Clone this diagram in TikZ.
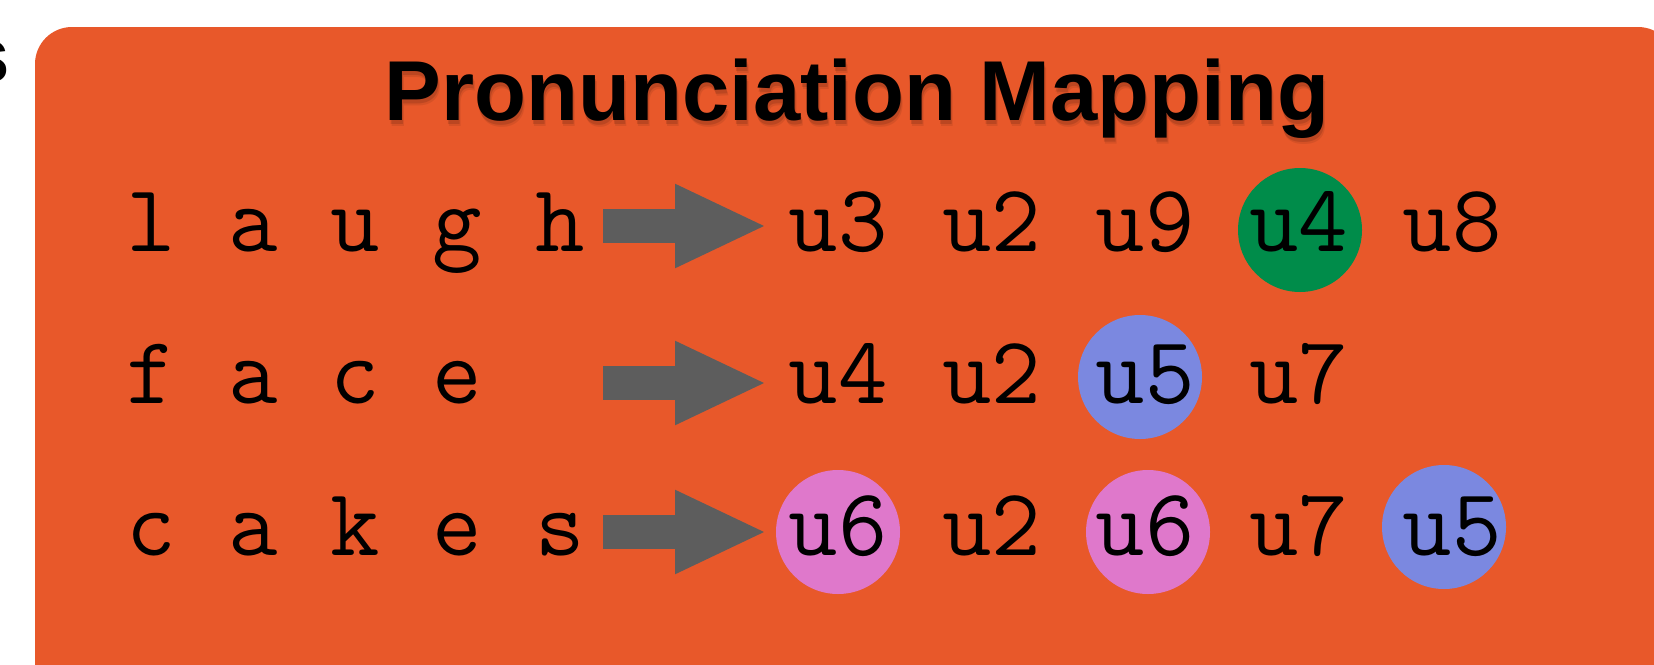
\documentclass[tikz,border=0pt]{standalone}
\usepackage{fontspec}
\setmainfont{Liberation Sans}
\usetikzlibrary{arrows.meta}
\definecolor{bgorange}{RGB}{232,88,42}
\definecolor{arrowgray}{RGB}{93,93,93}
\definecolor{tokgreen}{RGB}{0,140,74}
\definecolor{tokblue}{RGB}{123,136,224}
\definecolor{tokpink}{RGB}{223,120,203}
\tikzset{
  tok/.style={inner sep=0pt, anchor=base, font=\ttfamily\fontsize{96}{100}\selectfont},
  titletext/.style={inner sep=0pt, anchor=base, font=\bfseries\fontsize{85}{90}\selectfont},
  blob/.style={circle, minimum size=124pt, inner sep=0pt, draw=none},
  bigarrow/.style={draw=arrowgray, line width=34pt, -{Triangle[length=92pt, width=77pt]}},
}
\begin{document}
\begin{tikzpicture}[x=1pt,y=-1pt]
\useasboundingbox (0,0) rectangle (1654,664);
\begin{scope}
\clip (0,0) rectangle (1654,664);
\fill[bgorange, rounded corners=37pt] (35,27) rectangle (1675,730);
\node[inner sep=0pt, anchor=base east, font=\bfseries\fontsize{78}{80}\selectfont] (cut) at (10,82) {s};
% title with soft shadow
\node[titletext, text=black, opacity=0.12] (tshadowa) at (858,124) {Pronunciation Mapping};
\node[titletext, text=black, opacity=0.08] (tshadowb) at (859,126) {Pronunciation Mapping};
\node[titletext] (title) at (857,120) {Pronunciation Mapping};
% circles
\node[blob, fill=tokgreen] (c1) at (1300,230) {};
\node[blob, fill=tokblue] (c2) at (1140,377) {};
\node[blob, fill=tokpink] (c3) at (838,532) {};
\node[blob, fill=tokpink] (c4) at (1148,532) {};
\node[blob, fill=tokblue] (c5) at (1444,527) {};
% row 1
\node[tok] (l1a) at (151,251) {l};
\node[tok] (l1b) at (253.2,251) {a};
\node[tok] (l1c) at (355.4,251) {u};
\node[tok] (l1d) at (457.6,251) {g};
\node[tok] (l1e) at (559.8,251) {h};
\node[tok] (r1a) at (838,251) {u3};
\node[tok] (r1b) at (991.6,251) {u2};
\node[tok] (r1c) at (1145.2,251) {u9};
\node[tok] (r1d) at (1298.8,251) {u4};
\node[tok] (r1e) at (1452.4,251) {u8};
% row 2
\node[tok] (l2a) at (151,403) {f};
\node[tok] (l2b) at (253.2,403) {a};
\node[tok] (l2c) at (355.4,403) {c};
\node[tok] (l2d) at (457.6,403) {e};
\node[tok] (r2a) at (838,403) {u4};
\node[tok] (r2b) at (991.6,403) {u2};
\node[tok] (r2c) at (1145.2,403) {u5};
\node[tok] (r2d) at (1298.8,403) {u7};
% row 3
\node[tok] (l3a) at (151,555) {c};
\node[tok] (l3b) at (253.2,555) {a};
\node[tok] (l3c) at (355.4,555) {k};
\node[tok] (l3d) at (457.6,555) {e};
\node[tok] (l3e) at (559.8,555) {s};
\node[tok] (r3a) at (838,555) {u6};
\node[tok] (r3b) at (991.6,555) {u2};
\node[tok] (r3c) at (1145.2,555) {u6};
\node[tok] (r3d) at (1298.8,555) {u7};
\node[tok] (r3e) at (1452.4,555) {u5};
% arrows
\coordinate (a1s) at (603,226);
\coordinate (a1e) at (767,226);
\coordinate (a2s) at (603,383);
\coordinate (a2e) at (767,383);
\coordinate (a3s) at (603,532);
\coordinate (a3e) at (767,532);
\draw[bigarrow] (a1s) -- (a1e);
\draw[bigarrow] (a2s) -- (a2e);
\draw[bigarrow] (a3s) -- (a3e);
\end{scope}
\end{tikzpicture}
\end{document}
